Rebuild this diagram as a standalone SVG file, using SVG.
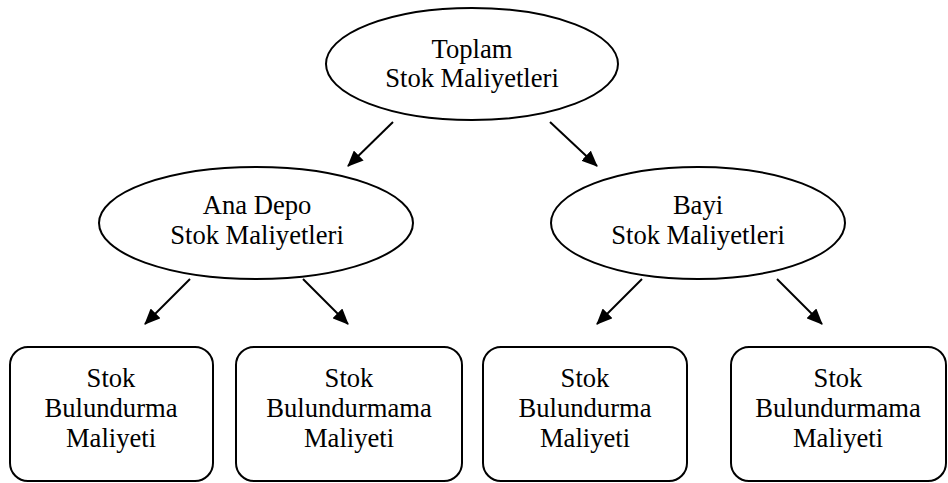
<svg xmlns="http://www.w3.org/2000/svg" width="948" height="483" viewBox="0 0 948 483">
<style>
.n{fill:#fff;stroke:#000;stroke-width:2}
.t{font-family:"Liberation Serif","Times New Roman",serif;font-size:26.6px;fill:#000;text-anchor:middle}
.c{stroke:#000;stroke-width:2;fill:none;marker-end:url(#ah)}
</style>
<defs>
<marker id="ah" viewBox="0 0 16 14" refX="15" refY="7" markerWidth="16" markerHeight="14" markerUnits="userSpaceOnUse" orient="auto">
<path d="M0,0 L16,7 L0,14 z" fill="#000"/>
</marker>
</defs>
<rect width="948" height="483" fill="#fff"/>
<g id="connectors">
<line class="c" x1="393" y1="122" x2="348" y2="166"/>
<line class="c" x1="550" y1="122" x2="597" y2="166"/>
<line class="c" x1="190" y1="279" x2="145" y2="324"/>
<line class="c" x1="303" y1="279" x2="348" y2="324"/>
<line class="c" x1="642" y1="279" x2="597" y2="324"/>
<line class="c" x1="777" y1="279" x2="822" y2="324"/>
</g>
<g id="toplam">
<ellipse class="n" cx="472" cy="64" rx="146" ry="56"/>
<text class="t" x="472" y="58">Toplam</text>
<text class="t" x="472" y="87">Stok Maliyetleri</text>
</g>
<g id="anadepo">
<ellipse class="n" cx="256" cy="223" rx="157" ry="56"/>
<text class="t" x="257" y="214">Ana Depo</text>
<text class="t" x="257" y="244">Stok Maliyetleri</text>
</g>
<g id="bayi">
<ellipse class="n" cx="698" cy="223" rx="147" ry="56"/>
<text class="t" x="698" y="214">Bayi</text>
<text class="t" x="698" y="244">Stok Maliyetleri</text>
</g>
<g id="box1">
<rect class="n" x="10" y="347" width="203" height="134" rx="18"/>
<text class="t" x="111" y="387">Stok</text>
<text class="t" x="111" y="417">Bulundurma</text>
<text class="t" x="111" y="447">Maliyeti</text>
</g>
<g id="box2">
<rect class="n" x="236" y="347" width="226" height="134" rx="18"/>
<text class="t" x="349" y="387">Stok</text>
<text class="t" x="349" y="417">Bulundurmama</text>
<text class="t" x="349" y="447">Maliyeti</text>
</g>
<g id="box3">
<rect class="n" x="483" y="347" width="204" height="134" rx="18"/>
<text class="t" x="585" y="387">Stok</text>
<text class="t" x="585" y="417">Bulundurma</text>
<text class="t" x="585" y="447">Maliyeti</text>
</g>
<g id="box4">
<rect class="n" x="731" y="347" width="215" height="134" rx="18"/>
<text class="t" x="838" y="387">Stok</text>
<text class="t" x="838" y="417">Bulundurmama</text>
<text class="t" x="838" y="447">Maliyeti</text>
</g>
</svg>
